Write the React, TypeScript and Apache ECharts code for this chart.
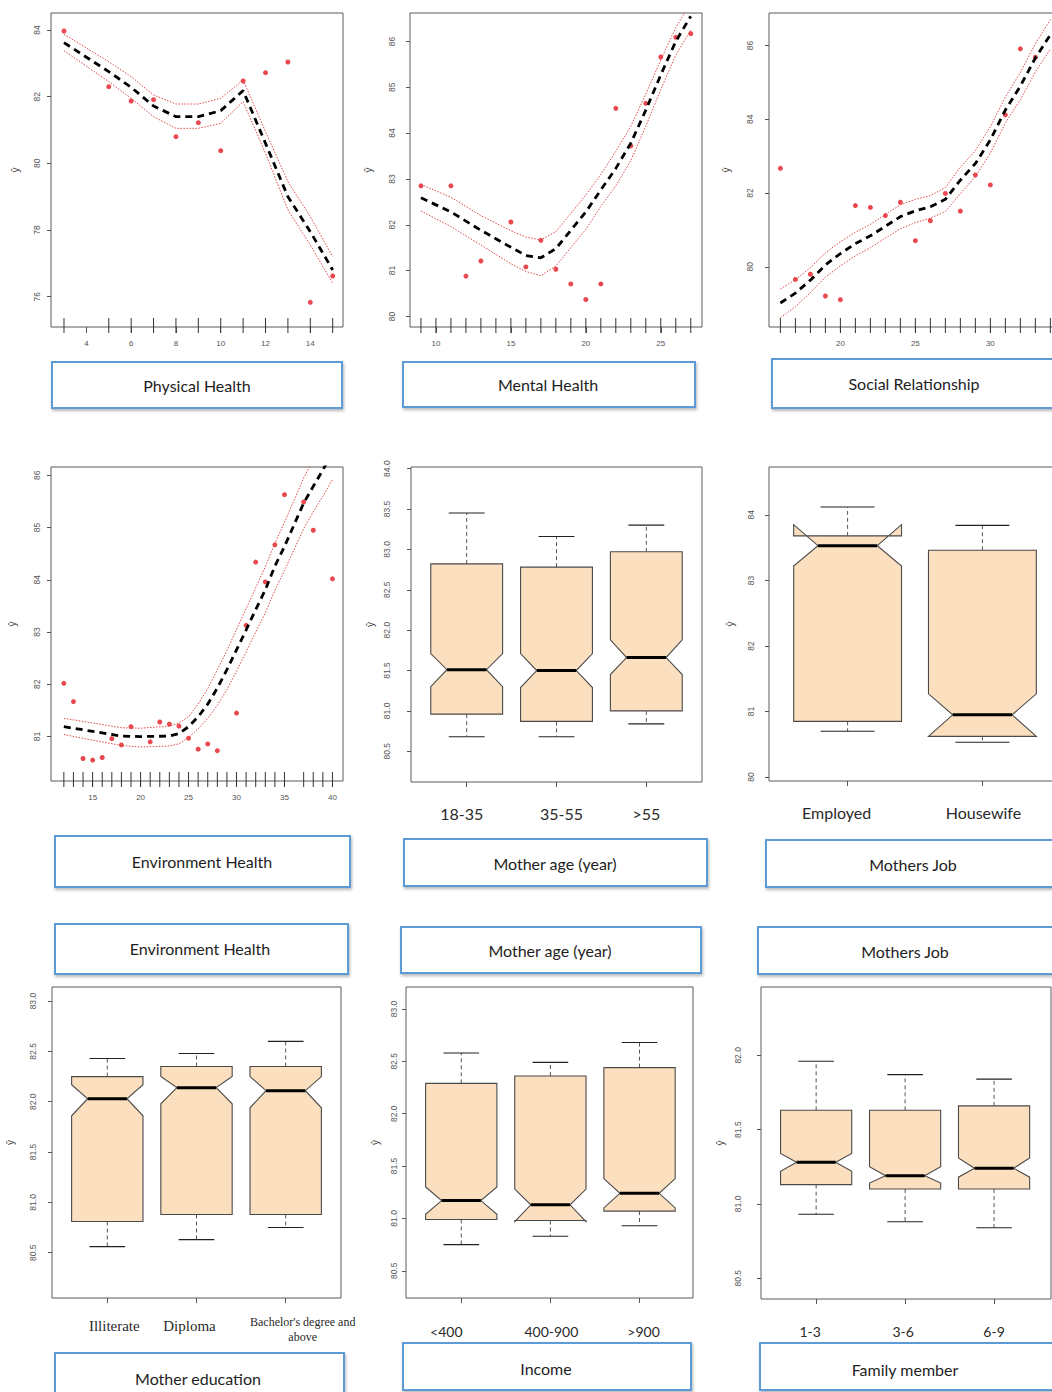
import React, { useEffect, useRef } from "react";
import * as echarts from "echarts";

// ---------------- Physical Health ----------------
const physX = [3, 5, 6, 7, 8, 9, 10, 11, 12, 13, 14, 15];
const physY = [83.97, 82.3, 81.87, 81.91, 80.8, 81.22, 80.38, 82.47, 82.72, 83.04, 75.83, 76.62];
const physFit = [83.62, 82.75, 82.28, 81.72, 81.4, 81.4, 81.58, 82.18, 80.6, 79.0, 77.95, 76.8];
const physUpper = [83.87, 83.05, 82.6, 82.05, 81.78, 81.78, 81.95, 82.5, 80.95, 79.45, 78.4, 77.2];
const physLower = [83.38, 82.45, 81.95, 81.4, 81.05, 81.05, 81.2, 81.85, 80.3, 78.6, 77.55, 76.4];
const physXTicks = [4, 6, 8, 10, 12, 14];
const physYTicks = [76, 78, 80, 82, 84];

// ---------------- Mental Health ----------------
const mentalX = [9, 11, 12, 13, 15, 16, 17, 18, 19, 20, 21, 22, 23, 24, 25, 26, 27];
const mentalY = [82.85, 82.85, 80.88, 81.21, 82.06, 81.08, 81.66, 81.03, 80.71, 80.37, 80.71, 84.54, 83.72, 84.65, 85.66, 86.09, 86.17];
const mentalFitX = [9, 11, 13, 15, 16, 17, 18, 19, 20, 21, 22, 23, 24, 25, 26, 27];
const mentalFit = [82.59, 82.28, 81.88, 81.51, 81.33, 81.28, 81.48, 81.88, 82.28, 82.76, 83.23, 83.78, 84.5, 85.27, 86.0, 86.55];
const mentalUpper = [82.88, 82.6, 82.2, 81.87, 81.73, 81.67, 81.85, 82.25, 82.65, 83.1, 83.6, 84.15, 84.85, 85.6, 86.3, 86.85];
const mentalLower = [82.3, 81.96, 81.56, 81.15, 80.98, 80.89, 81.1, 81.5, 81.9, 82.4, 82.85, 83.4, 84.15, 84.95, 85.7, 86.25];
const mentalRug = [9, 10, 11, 12, 13, 14, 15, 16, 17, 18, 19, 20, 21, 22, 23, 24, 25, 26, 27];
const mentalXTicks = [10, 15, 20, 25];
const mentalYTicks = [80, 81, 82, 83, 84, 85, 86];

// ---------------- Social Relationship ----------------
const socialX = [16, 17, 18, 19, 20, 21, 22, 23, 24, 25, 26, 27, 28, 29, 30, 31, 32, 33];
const socialY = [82.67, 79.66, 79.8, 79.21, 79.11, 81.66, 81.61, 81.39, 81.75, 80.71, 81.25, 81.99, 81.51, 82.49, 82.22, 84.12, 85.91, 85.68];
const socialFitX = [16, 17, 18, 19, 20, 21, 22, 23, 24, 25, 26, 27, 28, 29, 30, 31, 32, 33, 34];
const socialFit = [79.02, 79.29, 79.64, 80.05, 80.36, 80.63, 80.84, 81.1, 81.36, 81.52, 81.63, 81.83, 82.35, 82.8, 83.44, 84.25, 84.9, 85.66, 86.29];
const socialUpper = [79.4, 79.65, 79.98, 80.38, 80.68, 80.94, 81.15, 81.42, 81.68, 81.83, 81.93, 82.15, 82.7, 83.15, 83.8, 84.6, 85.27, 86.05, 86.7];
const socialLower = [78.62, 78.92, 79.3, 79.72, 80.03, 80.3, 80.52, 80.78, 81.03, 81.2, 81.32, 81.5, 81.98, 82.45, 83.08, 83.9, 84.53, 85.28, 85.9];
const socialRug = [16, 17, 18, 19, 20, 21, 22, 23, 24, 25, 26, 27, 28, 29, 30, 31, 32, 33, 34];
const socialXTicks = [20, 25, 30];
const socialYTicks = [80, 82, 84, 86];

// ---------------- Environment Health ----------------
const envX = [12, 13, 14, 15, 16, 17, 18, 19, 21, 22, 23, 24, 25, 26, 27, 28, 30, 31, 32, 33, 34, 35, 37, 38, 40];
const envY = [82.02, 81.67, 80.58, 80.55, 80.6, 80.96, 80.84, 81.19, 80.9, 81.28, 81.24, 81.2, 80.97, 80.76, 80.86, 80.73, 81.45, 83.13, 84.34, 83.96, 84.67, 85.63, 85.49, 84.95, 84.02];
const envFitX = [12, 15, 18, 20, 23, 24, 25, 26, 27, 28, 29, 30, 31, 32, 33, 34, 35, 37, 38, 39, 40];
const envFit = [81.19, 81.1, 81.01, 81.0, 81.01, 81.06, 81.19, 81.38, 81.62, 81.93, 82.28, 82.66, 83.04, 83.43, 83.81, 84.26, 84.64, 85.47, 85.79, 86.1, 86.45];
const envUpper = [81.35, 81.26, 81.17, 81.16, 81.2, 81.26, 81.38, 81.62, 81.92, 82.28, 82.65, 83.05, 83.45, 83.85, 84.25, 84.7, 85.1, 85.95, 86.3, 86.6, 86.95];
const envLower = [81.04, 80.93, 80.83, 80.8, 80.82, 80.86, 80.98, 81.15, 81.35, 81.6, 81.9, 82.25, 82.62, 83.0, 83.37, 83.8, 84.18, 84.98, 85.3, 85.6, 85.92];
const envRug = [12, 13, 14, 15, 16, 17, 18, 19, 20, 21, 22, 23, 24, 25, 26, 27, 28, 29, 30, 31, 32, 33, 34, 35, 37, 38, 39, 40];
const envXTicks = [15, 20, 25, 30, 35, 40];
const envYTicks = [81, 82, 83, 84, 85, 86];

// ---------------- Box plots: [whiskerLow, q1, notchLow, median, notchHigh, q3, whiskerHigh] ----------------
const ageLabels = ["18-35", "35-55", ">55"];
const ageStats = [
  [80.68, 80.96, 81.3, 81.51, 81.71, 82.82, 83.45],
  [80.68, 80.87, 81.29, 81.5, 81.71, 82.78, 83.16],
  [80.84, 81.0, 81.45, 81.66, 81.88, 82.97, 83.3],
];
const ageYTicks = [80.5, 81, 81.5, 82, 82.5, 83, 83.5, 84];

const jobLabels = ["Employed", "Housewife"];
const jobStats = [
  [80.7, 80.85, 83.22, 83.53, 83.85, 83.68, 84.12],
  [80.53, 80.62, 80.62, 80.95, 81.27, 83.46, 83.84],
];
const jobYTicks = [80, 81, 82, 83, 84];

const eduLabels = ["Illiterate", "Diploma", "Bachelor's degree and\nabove"];
const eduStats = [
  [80.56, 80.81, 81.86, 82.03, 82.17, 82.25, 82.43],
  [80.63, 80.88, 81.98, 82.14, 82.25, 82.35, 82.48],
  [80.75, 80.88, 81.94, 82.11, 82.25, 82.35, 82.6],
];
const eduYTicks = [80.5, 81, 81.5, 82, 82.5, 83];

const incomeLabels = ["<400", "400-900", ">900"];
const incomeStats = [
  [80.75, 80.99, 81.04, 81.17, 81.3, 82.29, 82.58],
  [80.83, 80.98, 80.97, 81.13, 81.28, 82.36, 82.49],
  [80.93, 81.07, 81.1, 81.24, 81.38, 82.44, 82.68],
];
const incomeYTicks = [80.5, 81, 81.5, 82, 82.5, 83];

const familyLabels = ["1-3", "3-6", "6-9"];
const familyStats = [
  [80.93, 81.13, 81.22, 81.28, 81.34, 81.63, 81.96],
  [80.88, 81.1, 81.14, 81.19, 81.25, 81.63, 81.87],
  [80.84, 81.1, 81.18, 81.24, 81.31, 81.66, 81.84],
];
const familyYTicks = [80.5, 81, 81.5, 82];

// ---------------- Panel titles ----------------
const titleTexts = [
  "Physical Health", "Mental Health", "Social Relationship",
  "Environment Health", "Mother age (year)", "Mothers Job",
  "Environment Health", "Mother age (year)", "Mothers Job",
  "Mother education", "Income", "Family member",
];

// ---------------- Layout (positions / styles) ----------------
const TITLE_LAYOUT = [
  { x: 52, y: 362, w: 290, h: 46, tx: 197, ty: 385 },
  { x: 403, y: 362, w: 292, h: 45, tx: 548, ty: 384 },
  { x: 772, y: 359, w: 295, h: 49, tx: 914, ty: 383 },
  { x: 55, y: 836, w: 295, h: 51, tx: 202, ty: 861 },
  { x: 404, y: 839, w: 303, h: 47, tx: 555, ty: 863 },
  { x: 766, y: 840, w: 295, h: 47, tx: 913, ty: 864 },
  { x: 55, y: 924, w: 293, h: 50, tx: 200, ty: 948 },
  { x: 401, y: 927, w: 300, h: 46, tx: 550, ty: 950 },
  { x: 758, y: 927, w: 300, h: 47, tx: 905, ty: 951 },
  { x: 55, y: 1353, w: 289, h: 48, tx: 198, ty: 1378 },
  { x: 403, y: 1343, w: 288, h: 47, tx: 546, ty: 1368 },
  { x: 760, y: 1343, w: 300, h: 47, tx: 905, ty: 1369 },
];

const RED = "#e41a22";
const BAND = "#e04848";
const BOX_FILL = "#FCDFBF";
const AXIS_GRAY = "#555";

type ScatterPanel = {
  grid: { left: number; top: number; width: number; height: number };
  xr: [number, number];
  yr: [number, number];
  xTicks: number[];
  yTicks: number[];
  px: number[];
  py: number[];
  fx: number[];
  fit: number[];
  up: number[];
  lo: number[];
  rug: number[];
  yMargin: number;
  nameGap: number;
};

type BoxPanel = {
  grid: { left: number; top: number; width: number; height: number };
  xr: [number, number];
  yr: [number, number];
  yTicks: number[];
  decimals: number;
  labels: string[];
  stats: number[][];
  shifts: number[];
  fontFamily: string;
  fontSizes: number[];
  labelMargins: number[];
  yMargin: number;
  nameGap: number;
};

const scatterPanels: ScatterPanel[] = [
  { grid: { left: 51, top: 13, width: 292, height: 314 }, xr: [2.42, 15.46], yr: [75.09, 84.51], xTicks: physXTicks, yTicks: physYTicks, px: physX, py: physY, fx: physX, fit: physFit, up: physUpper, lo: physLower, rug: physX, yMargin: 10, nameGap: 31 },
  { grid: { left: 410, top: 13, width: 292, height: 314 }, xr: [8.27, 27.75], yr: [79.77, 86.62], xTicks: mentalXTicks, yTicks: mentalYTicks, px: mentalX, py: mentalY, fx: mentalFitX, fit: mentalFit, up: mentalUpper, lo: mentalLower, rug: mentalRug, yMargin: 14, nameGap: 37 },
  { grid: { left: 769, top: 13, width: 292, height: 314 }, xr: [15.24, 34.71], yr: [78.37, 86.88], xTicks: socialXTicks, yTicks: socialYTicks, px: socialX, py: socialY, fx: socialFitX, fit: socialFit, up: socialUpper, lo: socialLower, rug: socialRug, yMargin: 15, nameGap: 38 },
  { grid: { left: 51, top: 467, width: 292, height: 314 }, xr: [10.66, 41.1], yr: [80.15, 86.16], xTicks: envXTicks, yTicks: envYTicks, px: envX, py: envY, fx: envFitX, fit: envFit, up: envUpper, lo: envLower, rug: envRug, yMargin: 10, nameGap: 34 },
];

const boxPanels: BoxPanel[] = [
  { grid: { left: 411, top: 467, width: 291, height: 315 }, xr: [0.38, 3.62], yr: [80.12, 84.02], yTicks: ageYTicks, decimals: 1, labels: ageLabels, stats: ageStats, shifts: [-5, 5, 0], fontFamily: "Lato", fontSizes: [16, 16, 16], labelMargins: [22, 22, 22], yMargin: 20, nameGap: 36 },
  { grid: { left: 769, top: 467, width: 292, height: 314 }, xr: [0.417, 2.583], yr: [79.94, 84.73], yTicks: jobYTicks, decimals: 0, labels: jobLabels, stats: jobStats, shifts: [-11, 1], fontFamily: "Lato", fontSizes: [16, 16], labelMargins: [22, 22], yMargin: 14, nameGap: 34 },
  { grid: { left: 52, top: 987, width: 289, height: 311 }, xr: [0.38, 3.62], yr: [80.05, 83.14], yTicks: eduYTicks, decimals: 1, labels: eduLabels, stats: eduStats, shifts: [7, -7, 17], fontFamily: "Liberation Serif", fontSizes: [15, 15, 12], labelMargins: [19, 19, 16], yMargin: 15, nameGap: 37 },
  { grid: { left: 406, top: 987, width: 287, height: 311 }, xr: [0.38, 3.6], yr: [80.24, 83.21], yTicks: incomeYTicks, decimals: 1, labels: incomeLabels, stats: incomeStats, shifts: [-15, 1, 4], fontFamily: "Lato", fontSizes: [14, 14, 14], labelMargins: [25, 25, 25], yMargin: 8, nameGap: 26 },
  { grid: { left: 761, top: 987, width: 290, height: 312 }, xr: [0.38, 3.64], yr: [80.36, 82.46], yTicks: familyYTicks, decimals: 1, labels: familyLabels, stats: familyStats, shifts: [-6, -2, 0], fontFamily: "Lato", fontSizes: [14, 14, 14], labelMargins: [24, 24, 24], yMargin: 19, nameGap: 36 },
];

function gridSpec(g: { left: number; top: number; width: number; height: number }) {
  return {
    left: g.left,
    top: g.top,
    width: g.width,
    height: g.height,
    show: true,
    borderColor: "#5a5a5a",
    borderWidth: 1,
    backgroundColor: "transparent",
    containLabel: false,
    outerBoundsMode: "none",
  };
}

function yAxisSpec(gi: number, yr: [number, number], ticks: number[], decimals: number, margin: number, nameGap: number) {
  return {
    type: "value",
    gridIndex: gi,
    min: yr[0],
    max: yr[1],
    name: "ŷ",
    nameLocation: "middle",
    nameGap,
    nameRotate: 90,
    nameTextStyle: { fontSize: 10, color: "#444", fontFamily: "Liberation Sans" },
    axisLine: { show: false },
    splitLine: { show: false },
    axisTick: { show: true, customValues: ticks, length: 4, lineStyle: { color: AXIS_GRAY } },
    axisLabel: {
      customValues: ticks,
      rotate: 90,
      margin,
      fontSize: 8.5,
      color: "#555",
      fontFamily: "Liberation Sans",
      hideOverlap: false,
      showMinLabel: true,
      showMaxLabel: true,
      formatter: (v: number) => v.toFixed(decimals),
    },
  };
}

function buildOption() {
  const grid: any[] = [];
  const xAxis: any[] = [];
  const yAxis: any[] = [];
  const series: any[] = [];

  scatterPanels.forEach((p) => {
    const gi = grid.length;
    grid.push(gridSpec(p.grid));
    const xi = xAxis.length;
    xAxis.push({
      type: "value",
      gridIndex: gi,
      min: p.xr[0],
      max: p.xr[1],
      axisLine: { show: false },
      splitLine: { show: false },
      axisTick: { show: true, customValues: p.xTicks, length: 6, lineStyle: { color: AXIS_GRAY } },
      axisLabel: {
        customValues: p.xTicks, margin: 12, fontSize: 8, color: "#555", fontFamily: "Liberation Sans",
        hideOverlap: false, showMinLabel: true, showMaxLabel: true,
      },
    });
    yAxis.push(yAxisSpec(gi, p.yr, p.yTicks, 0, p.yMargin, p.nameGap));
    const bandStyle = { color: BAND, width: 1, type: [1.5, 1.5] };
    series.push({
      type: "line", xAxisIndex: xi, yAxisIndex: gi, silent: true, symbol: "none",
      data: p.fx.map((x, i) => [x, p.up[i]]), lineStyle: bandStyle, clip: true,
    });
    series.push({
      type: "line", xAxisIndex: xi, yAxisIndex: gi, silent: true, symbol: "none",
      data: p.fx.map((x, i) => [x, p.lo[i]]), lineStyle: bandStyle, clip: true,
    });
    series.push({
      type: "line", xAxisIndex: xi, yAxisIndex: gi, silent: true, symbol: "none",
      data: p.fx.map((x, i) => [x, p.fit[i]]), lineStyle: { color: "#000", width: 2.8, type: [7, 5] }, clip: true,
    });
    series.push({
      type: "scatter", xAxisIndex: xi, yAxisIndex: gi, silent: true, symbolSize: 5,
      itemStyle: { color: RED },
      data: p.px.map((x, i) => [x, p.py[i]]),
    });
    series.push({
      type: "custom", xAxisIndex: xi, yAxisIndex: gi, silent: true,
      encode: { x: 0, y: 1 },
      data: p.rug.map((x) => [x, p.yr[0]]),
      renderItem: (params: any, api: any) => {
        const cs = params.coordSys;
        const bottom = cs.y + cs.height;
        const px = api.coord([api.value(0), api.value(1)])[0];
        return {
          type: "line",
          shape: { x1: px, y1: bottom - 9, x2: px, y2: bottom + 6 },
          style: { stroke: "#333", lineWidth: 1 },
        };
      },
    });
  });

  boxPanels.forEach((p) => {
    const gi = grid.length;
    grid.push(gridSpec(p.grid));
    const centers = p.labels.map((_, i) => i + 1);
    const xi = xAxis.length;
    // main axis: ticks only
    xAxis.push({
      type: "value",
      gridIndex: gi,
      min: p.xr[0],
      max: p.xr[1],
      axisLine: { show: false },
      splitLine: { show: false },
      axisTick: { show: true, customValues: centers, length: 5, lineStyle: { color: AXIS_GRAY } },
      axisLabel: { show: false },
    });
    // one label axis per category (avoids automatic overlap hiding)
    p.labels.forEach((lab, i) => {
      const s = p.shifts[i];
      xAxis.push({
        type: "value",
        gridIndex: gi,
        position: "bottom",
        offset: 0,
        min: p.xr[0],
        max: p.xr[1],
        axisLine: { show: false },
        splitLine: { show: false },
        axisTick: { show: false },
        axisLabel: {
          customValues: [centers[i]],
          margin: p.labelMargins[i],
          hideOverlap: false,
          showMinLabel: true,
          showMaxLabel: true,
          formatter: () => lab.split("\n").map((line) => `{t|${line}}`).join("\n"),
          rich: {
            t: {
              fontFamily: p.fontFamily,
              fontSize: p.fontSizes[i],
              lineHeight: p.fontSizes[i] + 3,
              color: "#2a2a2a",
              padding: s >= 0 ? [0, 0, 0, 2 * s] : [0, -2 * s, 0, 0],
            },
          },
        },
      });
    });
    yAxis.push(yAxisSpec(gi, p.yr, p.yTicks, p.decimals, p.yMargin, p.nameGap));
    series.push({
      type: "custom", xAxisIndex: xi, yAxisIndex: gi, silent: true,
      encode: { x: 0, y: [1, 2, 3, 4, 5, 6, 7] },
      data: p.stats.map((s, i) => [i + 1, ...s]),
      renderItem: (params: any, api: any) => {
        const x = api.value(0);
        const wLo = api.value(1), q1 = api.value(2), nLo = api.value(3), med = api.value(4);
        const nHi = api.value(5), q3 = api.value(6), wHi = api.value(7);
        const hw = api.size([0.4, 0])[0];
        const cx = api.coord([x, med])[0];
        const Y = (v: number) => api.coord([x, v])[1];
        const L = cx - hw, R = cx + hw, nf = 0.55;
        const points = [
          [L, Y(q1)], [L, Y(nLo)], [cx - hw * nf, Y(med)], [L, Y(nHi)], [L, Y(q3)],
          [R, Y(q3)], [R, Y(nHi)], [cx + hw * nf, Y(med)], [R, Y(nLo)], [R, Y(q1)],
        ];
        const whisk = { stroke: "#555", lineWidth: 1, lineDash: [4, 3] };
        const cap = { stroke: "#222", lineWidth: 1.1 };
        return {
          type: "group",
          children: [
            { type: "line", shape: { x1: cx, y1: Y(q3), x2: cx, y2: Y(wHi) }, style: whisk },
            { type: "line", shape: { x1: cx, y1: Y(q1), x2: cx, y2: Y(wLo) }, style: whisk },
            { type: "line", shape: { x1: cx - hw / 2, y1: Y(wHi), x2: cx + hw / 2, y2: Y(wHi) }, style: cap },
            { type: "line", shape: { x1: cx - hw / 2, y1: Y(wLo), x2: cx + hw / 2, y2: Y(wLo) }, style: cap },
            { type: "polygon", shape: { points }, style: { fill: BOX_FILL, stroke: "#4a4a4a", lineWidth: 1.1 } },
            { type: "line", shape: { x1: cx - hw * nf, y1: Y(med), x2: cx + hw * nf, y2: Y(med) }, style: { stroke: "#000", lineWidth: 3 } },
          ],
        };
      },
    });
  });

  const graphic: any[] = [];
  titleTexts.forEach((t, i) => {
    const b = TITLE_LAYOUT[i];
    graphic.push({
      type: "rect",
      shape: { x: b.x, y: b.y, width: b.w, height: b.h },
      style: {
        fill: "#fff", stroke: "#5B9BD5", lineWidth: 2,
        shadowBlur: 3, shadowColor: "rgba(0,0,0,0.28)", shadowOffsetX: 1, shadowOffsetY: 2,
      },
      z: 10,
    });
    graphic.push({
      type: "text",
      x: b.tx,
      y: b.ty,
      style: {
        text: t, fill: "#1e1e1e", font: "16px Lato", fontSize: 16, fontFamily: "Lato",
        textAlign: "center", textVerticalAlign: "middle", align: "center", verticalAlign: "middle",
      },
      z: 11,
    });
  });

  return {
    animation: false,
    backgroundColor: "#ffffff",
    textStyle: { fontFamily: "Liberation Sans" },
    grid,
    xAxis,
    yAxis,
    series,
    graphic,
  };
}

export default function App() {
  const ref = useRef<HTMLDivElement>(null);
  useEffect(() => {
    if (!ref.current) return;
    const chart = echarts.init(ref.current, null, { renderer: "svg" });
    chart.setOption(buildOption() as any);
    return () => {
      chart.dispose();
    };
  }, []);
  return (
    <div
      ref={ref}
      style={{ position: "absolute", left: 0, top: 0, width: 1052, height: 1392, background: "#fff" }}
    />
  );
}
